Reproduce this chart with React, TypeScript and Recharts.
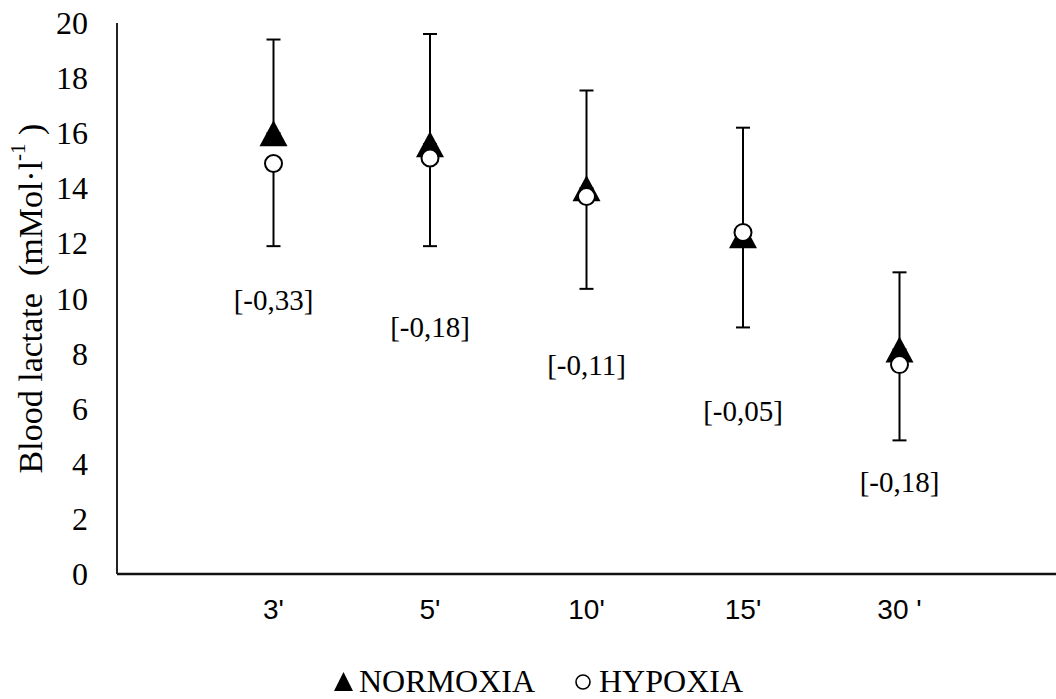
import { ScatterChart, Scatter, XAxis, YAxis, ErrorBar } from 'recharts';

const timePoints = ["3'", "5'", "10'", "15'", "30 '"];
const normoxiaMean = [16.0, 15.6, 14.0, 12.3, 8.15];
const normoxiaSd = [3.4, 4.0, 3.55, 3.9, 2.8];
const hypoxiaMean = [14.9, 15.1, 13.7, 12.4, 7.6];
const hypoxiaSd = [3.0, 3.2, 3.35, 3.45, 2.75];
const effectSizes = ['[-0,33]', '[-0,18]', '[-0,11]', '[-0,05]', '[-0,18]'];
const effectLabelY = [9.95, 8.95, 7.6, 5.9, 3.35];
const yTicks = [0, 2, 4, 6, 8, 10, 12, 14, 16, 18, 20];

const xTicks = timePoints.map((_, i) => i + 1);
// plus-only bars on normoxia, minus-only on hypoxia (as in the original figure)
const normoxia = timePoints.map((_, i) => ({ x: i + 1, y: normoxiaMean[i], err: [0, normoxiaSd[i]] }));
const hypoxia = timePoints.map((_, i) => ({ x: i + 1, y: hypoxiaMean[i], err: [hypoxiaSd[i], 0] }));
const effects = timePoints.map((_, i) => ({ x: i + 1, y: effectLabelY[i], text: effectSizes[i] }));

const SERIF = "'Liberation Serif', 'Times New Roman', serif";
const SANS = "'Liberation Sans Narrow', 'Liberation Sans', Arial, sans-serif";

const Triangle = (props: any) => {
  const { cx, cy } = props;
  return <path d={`M${cx},${cy - 13} L${cx + 14},${cy + 13} L${cx - 14},${cy + 13} Z`} fill="#000" />;
};

const OpenCircle = (props: any) => {
  const { cx, cy } = props;
  return <circle cx={cx} cy={cy} r={8.5} fill="#fff" stroke="#000" strokeWidth={2} />;
};

const Nothing = () => <g />;

const EffectText = (props: any) => {
  const { cx, cy, payload } = props;
  return (
    <text x={cx} y={cy} textAnchor="middle" dominantBaseline="central" fontFamily={SERIF} fontSize={29} fill="#000">
      {payload.text}
    </text>
  );
};

const XTick = (props: any) => {
  const { x, y, payload } = props;
  return (
    <text x={x} y={y + 35} textAnchor="middle" dominantBaseline="central" fontFamily={SANS} fontSize={28} fill="#000">
      {timePoints[payload.value - 1]}
    </text>
  );
};

const YTick = (props: any) => {
  const { x, y, payload } = props;
  return (
    <text x={x - 29} y={y} textAnchor="end" dominantBaseline="central" fontFamily={SERIF} fontSize={32} fill="#000">
      {payload.value}
    </text>
  );
};

const YTitle = (props: any) => {
  const vb = props.viewBox || { x: 0, y: 23, width: 117, height: 551 };
  const cx = vb.x + 30;
  const cy = vb.y + vb.height / 2;
  return (
    <text
      x={cx}
      y={cy}
      transform={`rotate(-90, ${cx}, ${cy})`}
      textAnchor="middle"
      dominantBaseline="central"
      fontFamily={SERIF}
      fontSize={34}
      fill="#000"
    >
      {'Blood lactate\u00a0 (mMol·l'}
      <tspan dy={-12} fontSize={21}>-1</tspan>
      <tspan dy={12}>{'\u00a0)'}</tspan>
    </text>
  );
};

export default function App() {
  return (
    <div style={{ position: 'absolute', left: 0, top: 0, width: 1056, height: 699, background: '#fff', overflow: 'hidden' }}>
      <ScatterChart width={1056} height={699} margin={{ top: 23, right: 0, bottom: 0, left: 0 }}>
        <XAxis
          type="number"
          dataKey="x"
          domain={[0, 6]}
          ticks={xTicks}
          tick={<XTick />}
          tickLine={false}
          tickSize={0}
          tickMargin={0}
          axisLine={{ stroke: '#111', strokeWidth: 2.5 }}
          height={125}
          allowDataOverflow
        />
        <YAxis
          type="number"
          dataKey="y"
          domain={[0, 20]}
          ticks={yTicks}
          tick={<YTick />}
          tickLine={false}
          tickSize={0}
          tickMargin={0}
          axisLine={{ stroke: '#222', strokeWidth: 2 }}
          width={117}
          label={{ content: <YTitle /> }}
          allowDataOverflow
        />
        <Scatter data={normoxia} shape={<Nothing />} isAnimationActive={false} legendType="none">
          <ErrorBar dataKey="err" direction="y" width={7} stroke="#000" strokeWidth={2} />
        </Scatter>
        <Scatter data={hypoxia} shape={<Nothing />} isAnimationActive={false} legendType="none">
          <ErrorBar dataKey="err" direction="y" width={7} stroke="#000" strokeWidth={2} />
        </Scatter>
        <Scatter name="NORMOXIA" data={normoxia} shape={<Triangle />} isAnimationActive={false} />
        <Scatter name="HYPOXIA" data={hypoxia} shape={<OpenCircle />} isAnimationActive={false} />
        <Scatter data={effects} shape={<EffectText />} isAnimationActive={false} legendType="none" />
      </ScatterChart>
      <div
        style={{
          position: 'absolute',
          left: 0,
          top: 664,
          width: 1056,
          height: 34,
          display: 'flex',
          justifyContent: 'center',
          alignItems: 'center',
          fontFamily: SERIF,
          fontSize: 32,
          color: '#000',
          lineHeight: '34px',
          paddingLeft: 20,
          boxSizing: 'border-box',
        }}
      >
        <svg width={21} height={21} style={{ marginRight: 5 }}>
          <path d="M10.5,1 L20,20 L1,20 Z" fill="#000" />
        </svg>
        <span>NORMOXIA</span>
        <svg width={20} height={20} style={{ marginLeft: 38, marginRight: 6 }}>
          <circle cx={10} cy={11} r={7} fill="#fff" stroke="#000" strokeWidth={1.6} />
        </svg>
        <span>HYPOXIA</span>
      </div>
    </div>
  );
}
